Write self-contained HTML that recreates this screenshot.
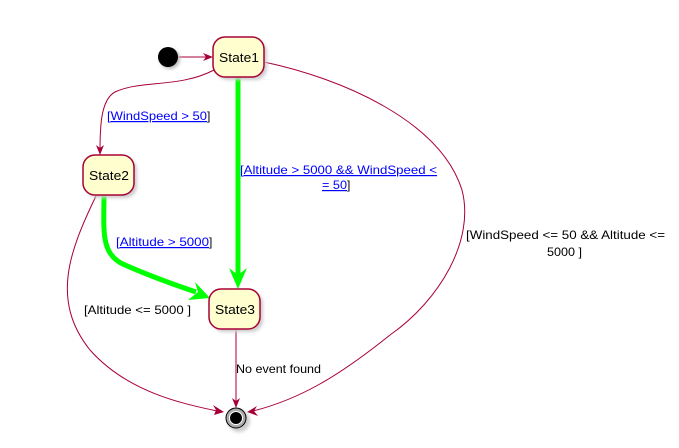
<!DOCTYPE html>
<html><head><meta charset="utf-8"><style>
html,body{margin:0;padding:0;background:#fff;}
svg{display:block;font-family:"Liberation Sans",sans-serif;}
</style></head><body>
<svg width="679" height="448" viewBox="0 0 679 448" xmlns="http://www.w3.org/2000/svg">
<defs>
<filter id="sh" x="-20%" y="-20%" width="150%" height="150%"><feGaussianBlur stdDeviation="1.5"/></filter>
</defs>
<g fill="none" stroke="#A80036" stroke-width="1">
 <line x1="178" y1="57" x2="211" y2="57"/>
 <path d="M214,70 C180,88 140,80 115,92 C100,100 100,130 100,153"/>
 <path d="M96,196 C70,250 50,300 90,350 C130,395 190,405 222,412"/>
 <line x1="236" y1="329" x2="236" y2="407"/>
 <path d="M264,62 C340,78 440,120 462,190 C475,240 440,300 390,335 C340,375 300,400 249,412"/>
</g>
<g fill="#A80036">
 <polygon points="213,57 203,53 206,57 203,61"/>
 <polygon points="100,155 96,145 100,148 104,145"/>
 <polygon points="236,408 232,398 236,401 240,398"/>
 <polygon points="224,412 213,405 216,410 214,415"/>
 <polygon points="247,412 258,416 254,411 257,406"/>
</g>
<g fill="none" stroke="#00FF00" stroke-width="5">
 <line x1="238" y1="77" x2="238" y2="276"/>
 <path d="M104,195 C104,230 100,255 125,265 C150,276 175,285 196,292"/>
</g>
<g fill="#00FF00">
 <polygon points="238,289 229,268 238,275 247,268"/>
 <polygon points="210,298 195,282 198,292 188,300"/>
</g>
<circle cx="170" cy="59" r="10" fill="#bbb" filter="url(#sh)"/>
<circle cx="168" cy="57" r="10" fill="#000"/>
<g fill="#ccc" filter="url(#sh)">
 <rect x="216" y="40" width="51" height="40" rx="12"/>
 <rect x="86" y="158" width="51" height="40" rx="12"/>
 <rect x="212" y="292" width="51" height="40" rx="12"/>
 <circle cx="239" cy="421" r="11"/>
</g>
<g fill="#FEFECE" stroke="#A80036" stroke-width="1.5">
 <rect x="213" y="37" width="51" height="40" rx="12"/>
 <rect x="83" y="155" width="51" height="40" rx="12"/>
 <rect x="209" y="289" width="51" height="40" rx="12"/>
</g>
<circle cx="236" cy="418" r="10" fill="#aaa" stroke="#000" stroke-width="1"/>
<circle cx="236" cy="418" r="7" fill="#fff"/>
<circle cx="236" cy="418" r="6" fill="#000"/>
<g font-size="13" fill="#000">
 <text x="219" y="62" textLength="40" lengthAdjust="spacingAndGlyphs">State1</text>
 <text x="89" y="180" textLength="40" lengthAdjust="spacingAndGlyphs">State2</text>
 <text x="215" y="314" textLength="40" lengthAdjust="spacingAndGlyphs">State3</text>
</g>
<g font-size="12">
 <text x="107" y="120" fill="#0000FF" text-decoration="underline" textLength="100" lengthAdjust="spacingAndGlyphs">[WindSpeed &gt; 50</text><text x="207" y="120" fill="#000">]</text>
 <text x="240" y="174" fill="#0000FF" text-decoration="underline" textLength="197" lengthAdjust="spacingAndGlyphs">[Altitude &gt; 5000 &amp;&amp; WindSpeed &lt;</text>
 <text x="322" y="189" fill="#0000FF" text-decoration="underline" textLength="25" lengthAdjust="spacingAndGlyphs">= 50</text><text x="347" y="189" fill="#000">]</text>
 <text x="116" y="246" fill="#0000FF" text-decoration="underline" textLength="93" lengthAdjust="spacingAndGlyphs">[Altitude &gt; 5000</text><text x="209" y="246" fill="#000">]</text>
 <text x="84" y="314" fill="#000" textLength="107" lengthAdjust="spacingAndGlyphs">[Altitude &lt;= 5000 ]</text>
 <text x="236" y="373" fill="#000" textLength="85" lengthAdjust="spacingAndGlyphs">No event found</text>
 <text x="466" y="239" fill="#000" textLength="199" lengthAdjust="spacingAndGlyphs">[WindSpeed &lt;= 50 &amp;&amp; Altitude &lt;=</text>
 <text x="547" y="256" fill="#000" textLength="35" lengthAdjust="spacingAndGlyphs">5000 ]</text>
</g>
</svg>
</body></html>
